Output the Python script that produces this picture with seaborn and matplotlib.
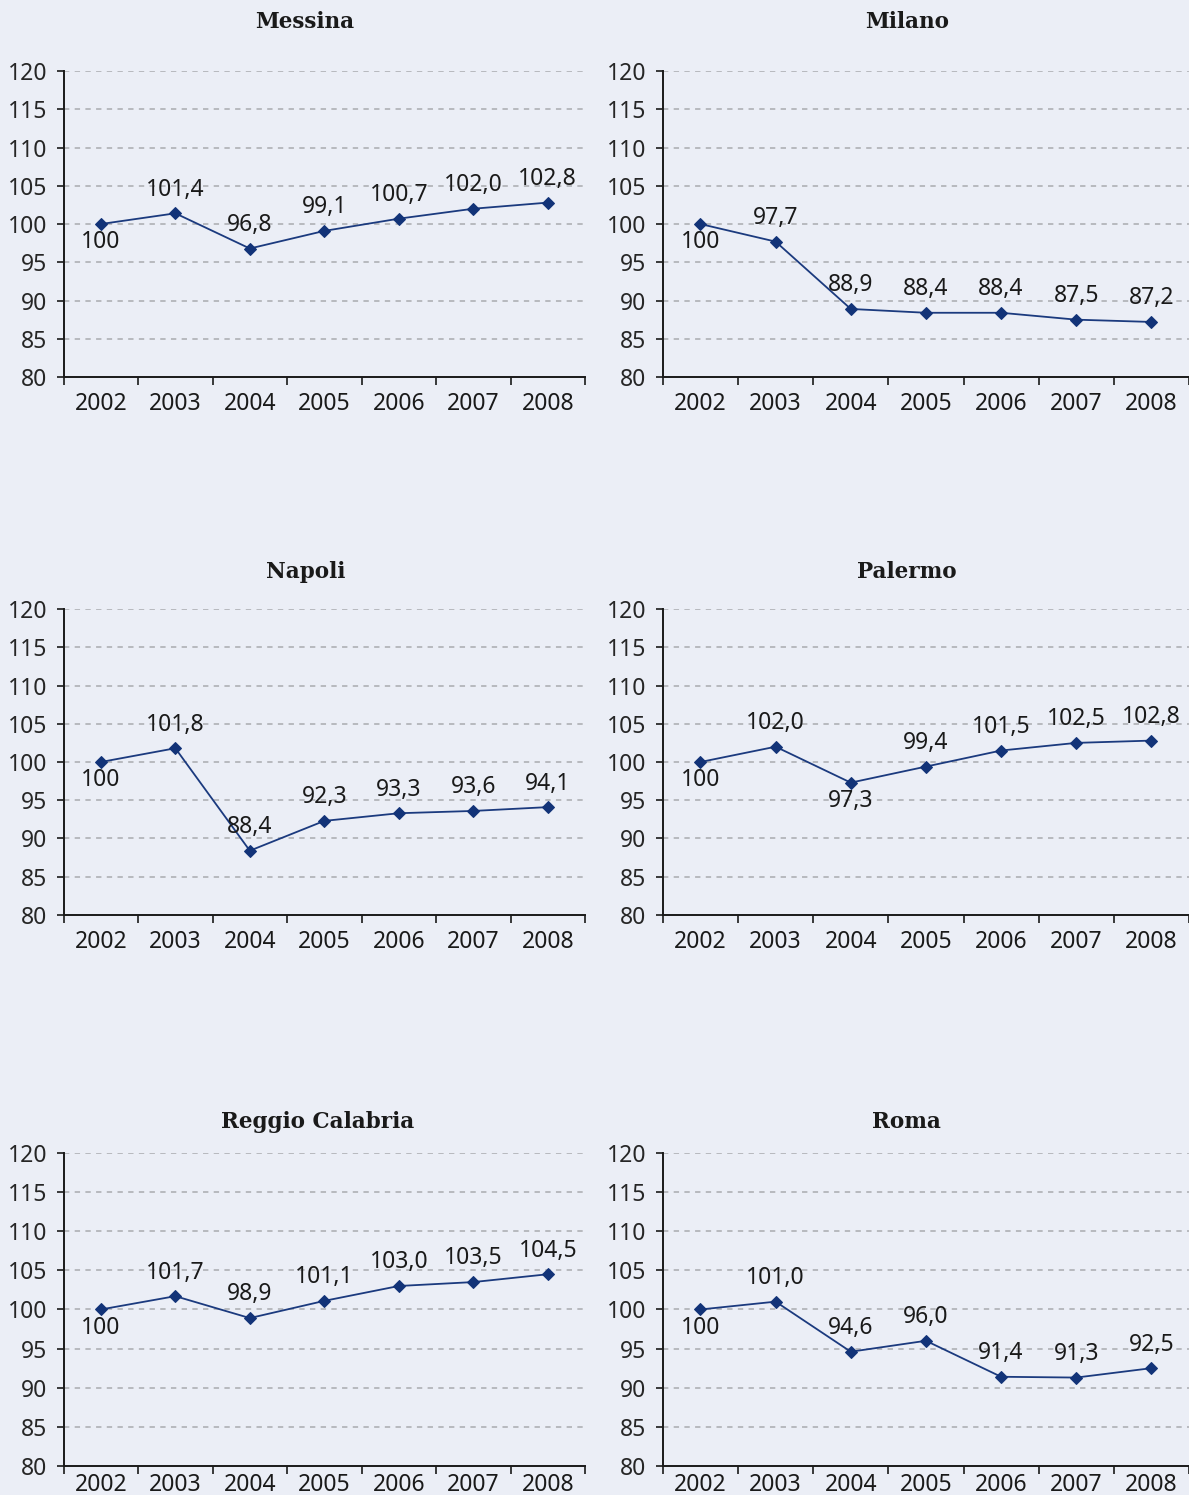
import matplotlib
matplotlib.use("Agg")
import matplotlib.pyplot as plt
import seaborn as sns
import pandas as pd
from matplotlib.ticker import FixedLocator, NullFormatter

# Index numbers, 2002 = 100
years = ["2002", "2003", "2004", "2005", "2006", "2007", "2008"]

messina = [100, 101.4, 96.8, 99.1, 100.7, 102.0, 102.8]
milano = [100, 97.7, 88.9, 88.4, 88.4, 87.5, 87.2]
napoli = [100, 101.8, 88.4, 92.3, 93.3, 93.6, 94.1]
palermo = [100, 102.0, 97.3, 99.4, 101.5, 102.5, 102.8]
reggio_calabria = [100, 101.7, 98.9, 101.1, 103.0, 103.5, 104.5]
roma = [100, 101.0, 94.6, 96.0, 91.4, 91.3, 92.5]

cities = ["Messina", "Milano", "Napoli", "Palermo", "Reggio Calabria", "Roma"]
series = [messina, milano, napoli, palermo, reggio_calabria, roma]

# label placement: +1 above the marker, -1 below
label_side = {
    "Messina": [-1, 1, 1, 1, 1, 1, 1],
    "Milano": [-1, 1, 1, 1, 1, 1, 1],
    "Napoli": [-1, 1, 1, 1, 1, 1, 1],
    "Palermo": [-1, 1, -1, 1, 1, 1, 1],
    "Reggio Calabria": [-1, 1, 1, 1, 1, 1, 1],
    "Roma": [-1, 1, 1, 1, 1, 1, 1],
}

BG = "#EBEEF6"
LINE = "#1B3A7E"
MARK = "#123378"
INK = "#1a1a1a"
SANS = ["Noto Sans", "DejaVu Sans"]
FS = 16.5

sns.set_theme(style="white")
plt.rcParams["font.family"] = SANS

W, H = 1189, 1495
fig = plt.figure(figsize=(W / 100, H / 100), dpi=100, facecolor=BG)

# axes rectangles (left, bottom, width, height) in figure fractions
lefts = [0.0535, 0.5575]
widths = [0.4385, 0.4425]
rows = [(0.7478, 0.2047), (0.3880, 0.2046), (0.0194, 0.2094)]
# title centres in pixels (x, y from top)
title_xy = [(305, 22), (907, 22), (306, 572), (907, 572), (318, 1122), (906, 1122)]
xpads = [11, 11, 5]

def fmt(v):
    if v == 100:
        return "100"
    return f"{v:.1f}".replace(".", ",")

for i, (city, vals) in enumerate(zip(cities, series)):
    r, c = divmod(i, 2)
    bottom, height = rows[r]
    ax = fig.add_axes([lefts[c], bottom, widths[c], height])
    ax.set_facecolor(BG)

    df = pd.DataFrame({"pos": range(len(years)), "value": vals})
    sns.lineplot(data=df, x="pos", y="value", ax=ax, color=LINE, lw=1.3,
                 marker="D", markersize=6.5, markerfacecolor=MARK,
                 markeredgecolor=MARK)

    ax.set_xlim(-0.5, len(years) - 0.5)
    ax.set_ylim(80, 120)
    ax.set_yticks(range(80, 121, 5))
    ax.set_xticks(range(len(years)))
    ax.set_xticklabels(years)
    ax.xaxis.set_minor_locator(FixedLocator([k - 0.5 for k in range(len(years) + 1)]))
    ax.xaxis.set_minor_formatter(NullFormatter())
    ax.tick_params(axis="x", which="major", length=0, pad=xpads[r], labelsize=FS,
                   colors=INK)
    ax.tick_params(axis="x", which="minor", length=5.5, width=1.2, color=INK,
                   direction="out", bottom=True)
    ax.tick_params(axis="y", length=5, width=1.2, color=INK,
                   direction="out", pad=7, labelsize=FS, left=True)
    ax.set_xlabel("")
    ax.set_ylabel("")

    for y in range(85, 121, 5):
        ax.axhline(y, color="#A9ABAF", lw=1.1, ls=(0, (3.5, 3.5)), zorder=0)

    for side in ["top", "right"]:
        ax.spines[side].set_visible(False)
    for side in ["left", "bottom"]:
        ax.spines[side].set_color(INK)
        ax.spines[side].set_linewidth(1.4)

    for k, v in enumerate(vals):
        s = label_side[city][k]
        ax.annotate(fmt(v), (k, v), xytext=(0, 17 if s > 0 else -13),
                    textcoords="offset points", ha="center", va="center",
                    fontsize=FS, color=INK)

    tx, ty = title_xy[i]
    fig.text(tx / W, 1 - ty / H, city, fontsize=15.5, fontweight="bold",
             family="DejaVu Serif", color=INK, ha="center", va="center")

fig.savefig("out.png", dpi=100, facecolor=BG)
